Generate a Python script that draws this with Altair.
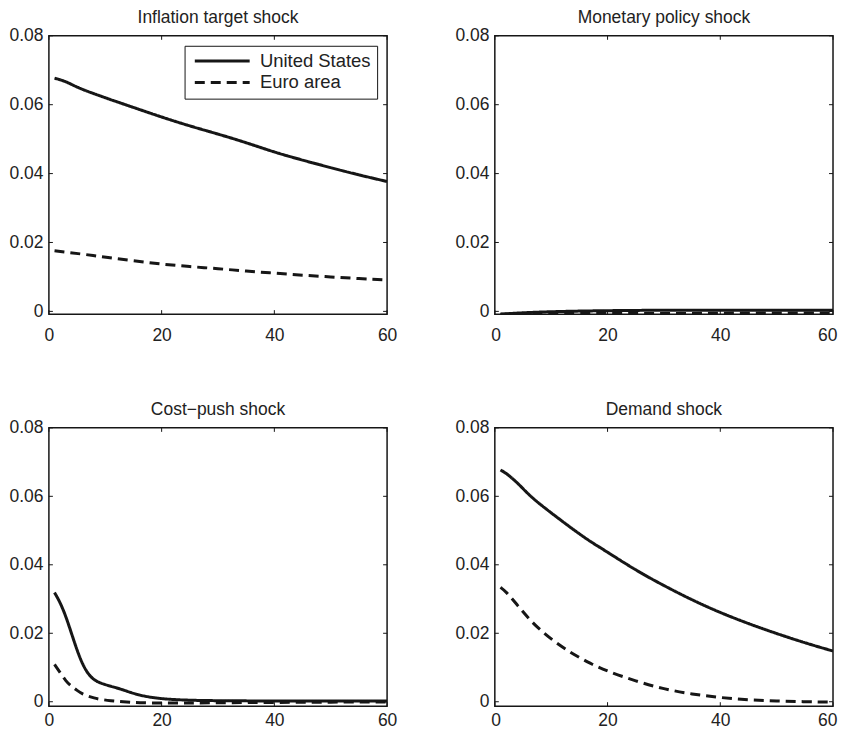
import altair as alt
import pandas as pd

# ---------------- data ----------------
x_ticks = [0, 20, 40, 60]
y_ticks = [0, 0.02, 0.04, 0.06, 0.08]
series_names = ["United States", "Euro area"]

# Inflation target shock
it_t = [1, 3, 5, 8, 10, 15, 20, 25, 30, 35, 40, 45, 50, 55, 60]
it_us = [0.0677, 0.0668, 0.0650, 0.0632, 0.0620, 0.0592, 0.0564, 0.0538, 0.0515,
         0.0490, 0.0462, 0.0439, 0.0417, 0.0396, 0.0377]
it_ea = [0.0176, 0.0172, 0.0168, 0.0162, 0.0157, 0.0147, 0.0137, 0.0130, 0.0124,
         0.0117, 0.0111, 0.0105, 0.0100, 0.0095, 0.0091]

# Monetary policy shock
mp_t = [1, 3, 5, 8, 10, 15, 20, 25, 30, 35, 40, 45, 50, 55, 60]
mp_us = [-0.0008, -0.0006, -0.0004, -0.0002, -0.0001, 0.0001, 0.0002, 0.0003, 0.0003,
         0.0003, 0.0003, 0.0003, 0.0003, 0.0003, 0.0003]
mp_ea = [-0.0008, -0.0008, -0.0007, -0.0007, -0.0006, -0.0006, -0.0006, -0.0006, -0.0006,
         -0.0006, -0.0005, -0.0005, -0.0005, -0.0005, -0.0005]

# Cost-push shock
cp_t = [1, 2, 3, 4, 5, 6, 7, 8, 9, 11, 13, 16, 20, 25, 30, 40, 50, 60]
cp_us = [0.0319, 0.0290, 0.0250, 0.0200, 0.0150, 0.0108, 0.0080, 0.0064, 0.0055,
         0.0045, 0.0036, 0.0018, 0.0008, 0.0004, 0.0003, 0.0002, 0.0002, 0.0002]
cp_ea = [0.0109, 0.0085, 0.0060, 0.0045, 0.0033, 0.0022, 0.0016, 0.0011, 0.0007,
         0.0003, 0.0000, -0.0003, -0.0004, -0.0004, -0.0003, -0.0002, -0.0001, -0.0001]

# Demand shock
dm_t = [1, 2, 4, 6, 8, 11, 14, 17, 20, 25, 30, 35, 40, 45, 50, 55, 60]
dm_us = [0.0677, 0.0668, 0.0640, 0.0605, 0.0577, 0.0539, 0.0502, 0.0467, 0.0437,
         0.0384, 0.0339, 0.0297, 0.0260, 0.0228, 0.0199, 0.0172, 0.0148]
dm_ea = [0.0334, 0.0322, 0.0282, 0.0243, 0.0210, 0.0170, 0.0138, 0.0111, 0.0089,
         0.0060, 0.0037, 0.0022, 0.0012, 0.0005, 0.0002, 0.0000, -0.0001]

INK = "#161616"
FONT = "Liberation Sans"
FS = 17.5
W, H = 339, 279


def panel(title, t, us, ea, ydom, show_legend, x_pad, flush):
    df = pd.DataFrame({
        "t": t + t,
        "v": us + ea,
        "s": [series_names[0]] * len(us) + [series_names[1]] * len(ea),
    })
    x_axis_kw = dict(values=x_ticks, ticks=False, domain=False, grid=False,
                     title=None, labelPadding=x_pad, labelFontSize=FS,
                     labelColor="#222", labelFont=FONT, labelFlush=flush)
    if flush:
        x_axis_kw["labelFlushOffset"] = 4
    x = alt.X("t:Q", scale=alt.Scale(domain=[0, 60], nice=False, zero=False),
              axis=alt.Axis(**x_axis_kw))
    y = alt.Y("v:Q", scale=alt.Scale(domain=ydom, nice=False, zero=False),
              axis=alt.Axis(values=y_ticks, ticks=False, domain=False, grid=False,
                            title=None, labelPadding=6, labelFontSize=FS,
                            labelColor="#222", labelFont=FONT,
                            labelExpr="datum.value == 0 ? '0' : format(datum.value, '.2f')"))
    if show_legend:
        leg = alt.Legend(title=None, orient="top-right", offset=10, padding=6,
                         strokeColor=INK, fillColor="white", labelFontSize=18.5,
                         labelFont=FONT, labelColor="#222",
                         symbolType="M-1,0H10", symbolSize=100,
                         symbolStrokeWidth=3, symbolStrokeColor=INK,
                         symbolFillColor="transparent", labelOffset=51,
                         rowPadding=2.5, cornerRadius=0)
    else:
        leg = None
    dash = alt.StrokeDash("s:N",
                          scale=alt.Scale(domain=series_names, range=[[1, 0], [10, 6]]),
                          legend=leg)
    lines = alt.Chart(df).mark_line(strokeWidth=3, color=INK, clip=True,
                                    interpolate="basis").encode(
        x=x, y=y, strokeDash=dash, detail="s:N")

    xt = pd.DataFrame({"t": x_ticks})
    yt = pd.DataFrame({"v": y_ticks})
    tb = alt.Chart(xt).mark_rule(color=INK, strokeWidth=1).encode(
        x=x, y=alt.value(H), y2=alt.value(H - 4))
    tt = alt.Chart(xt).mark_rule(color=INK, strokeWidth=1).encode(
        x=x, y=alt.value(0), y2=alt.value(4))
    tl = alt.Chart(yt).mark_rule(color=INK, strokeWidth=1).encode(
        y=y, x=alt.value(0), x2=alt.value(4))
    tr = alt.Chart(yt).mark_rule(color=INK, strokeWidth=1).encode(
        y=y, x=alt.value(W), x2=alt.value(W - 4))

    return alt.layer(lines, tb, tt, tl, tr).properties(
        width=W, height=H,
        title=alt.Title(title, fontSize=FS, fontWeight="normal", font=FONT,
                        color="#222", offset=0))


p1 = panel("Inflation target shock", it_t, it_us, it_ea, [-0.0008, 0.08], True, 12, False)
p2 = panel("Monetary policy shock", mp_t, mp_us, mp_ea, [-0.0008, 0.08], False, 12, True)
p3 = panel("Cost\u2212push shock", cp_t, cp_us, cp_ea, [-0.0013, 0.08], False, 5, False)
p4 = panel("Demand shock", dm_t, dm_us, dm_ea, [-0.0013, 0.08], False, 5, True)

row1 = alt.hconcat(p1, p2, spacing=56).resolve_scale(strokeDash="independent")
row2 = alt.hconcat(p3, p4, spacing=56).resolve_scale(strokeDash="independent")

chart = alt.vconcat(row1, row2, spacing=55).resolve_scale(
    strokeDash="independent"
).properties(
    padding={"left": 0, "top": -1, "right": 0, "bottom": -2},
    background="white",
).configure_view(
    stroke=INK, strokeWidth=1.5
)

chart.save("out.html", embed_options={"renderer": "svg", "actions": False})
